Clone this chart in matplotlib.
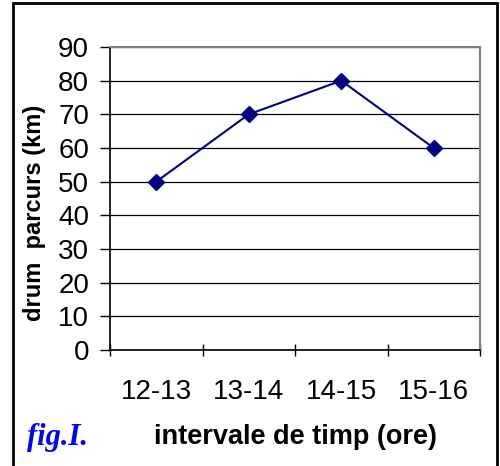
import matplotlib
matplotlib.use("Agg")
import matplotlib.pyplot as plt
from matplotlib.patches import Rectangle

# Data
intervals = ["12-13", "13-14", "14-15", "15-16"]
distance_km = [50, 70, 80, 60]
y_ticks = list(range(0, 100, 10))

plt.rcParams['font.family'] = ['Liberation Sans', 'DejaVu Sans']

fig = plt.figure(figsize=(5.0, 4.66), dpi=100)
ax = fig.add_axes([110 / 500, 116 / 466, 370 / 500, 303 / 466])

x = list(range(len(intervals)))
ax.plot(x, distance_km, color='#000080', lw=1.5, marker='D', markersize=8,
        markerfacecolor='#000080', markeredgecolor='#000080', zorder=3)

ax.set_xlim(-0.5, len(intervals) - 0.5)
ax.set_ylim(0, 90)

# y axis: ticks + horizontal gridlines
ax.set_yticks(y_ticks)
ax.tick_params(axis='y', direction='out', length=7, width=1, pad=8,
               labelsize=20, color='black')
ax.yaxis.grid(True, color='black', lw=0.9)
ax.set_axisbelow(True)

# x axis: category labels centred, ticks on boundaries
ax.set_xticks(x)
ax.set_xticklabels(intervals)
ax.set_xticks([i - 0.5 for i in range(len(intervals) + 1)], minor=True)
ax.tick_params(axis='x', which='major', length=0, pad=21, labelsize=20)
ax.tick_params(axis='x', which='minor', direction='inout', length=9, width=1,
               color='black')

for side in ['left', 'bottom']:
    ax.spines[side].set_color('black')
    ax.spines[side].set_linewidth(1.2)
for side in ['top', 'right']:
    ax.spines[side].set_color('#808080')
    ax.spines[side].set_linewidth(1.5)

# axis titles
fig.text(35 / 500, 1 - 213 / 466, "drum  parcurs (km)", rotation=90,
         ha='center', va='center', fontsize=17, fontweight='bold')
fig.text(295 / 500, 1 - 437 / 466, "intervale de timp (ore)",
         ha='center', va='center', fontsize=19.5, fontweight='bold')
fig.text(27 / 500, 1 - 438 / 466, "fig.I.", ha='left', va='center',
         fontsize=22, style='italic', fontweight='bold', color='#0000ff',
         family=['Liberation Serif', 'DejaVu Serif'])

# outer chart frame
fig.patches.append(Rectangle((13 / 500, -0.1), 484 / 500, 1.1 - 3 / 466,
                             transform=fig.transFigure, fill=False,
                             edgecolor='black', lw=2))

plt.savefig("out.png", dpi=100)
